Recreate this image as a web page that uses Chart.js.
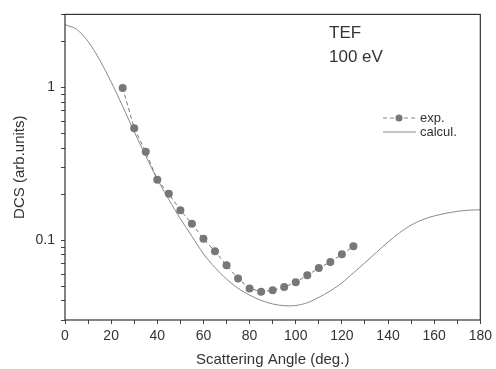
<!DOCTYPE html>
<html>
<head>
<meta charset="utf-8">
<script src="https://cdn.jsdelivr.net/npm/chart.js@4"></script>
<style>
  html, body { margin: 0; padding: 0; background: #fff; }
  #wrap { width: 496px; height: 369px; }
</style>
</head>
<body>
<div id="wrap"><canvas id="chart"></canvas></div>
<script>
// experimental points (deg, arb. units)
const expAngles = [25, 30, 35, 40, 45, 50, 55, 60, 65, 70, 75, 80, 85, 90, 95, 100, 105, 110, 115, 120, 125];
const expDCS = [0.99, 0.54, 0.378, 0.248, 0.201, 0.157, 0.128, 0.102, 0.0844, 0.0684, 0.056, 0.0483, 0.046, 0.0469, 0.0493, 0.053, 0.0588, 0.0656, 0.0718, 0.0807, 0.091];

// calculated curve
const calcAngles = [0, 5, 10, 15, 20, 25, 30, 35, 40, 45, 50, 55, 60, 65, 70, 75, 80, 85, 90, 95, 100, 105, 110, 115, 120, 125, 130, 135, 140, 145, 150, 155, 160, 165, 170, 175, 180];
const calcDCS = [2.57, 2.40, 1.995, 1.514, 1.084, 0.750, 0.513, 0.355, 0.251, 0.184, 0.138, 0.106, 0.0813, 0.0661, 0.0556, 0.0484, 0.0437, 0.0403, 0.0382, 0.0372, 0.0373, 0.0389, 0.0422, 0.0465, 0.0525, 0.0610, 0.0711, 0.0832, 0.0971, 0.1117, 0.1253, 0.1361, 0.1439, 0.1496, 0.1542, 0.1570, 0.1578];

const yTickValues = [0.03, 0.04, 0.05, 0.06, 0.07, 0.08, 0.09, 0.1, 0.2, 0.3, 0.4, 0.5, 0.6, 0.7, 0.8, 0.9, 1, 2, 3];
const yLabelled = [0.1, 1];
const xLabelStep = 20;

const textColor = '#333';
const fontFamily = '"Liberation Sans", Arial, sans-serif';

const framePlugin = {
  id: 'frame',
  afterDraw(chart) {
    const { ctx, chartArea: a } = chart;
    ctx.save();
    ctx.strokeStyle = '#333';
    ctx.lineWidth = 1.2;
    ctx.strokeRect(a.left, a.top, a.right - a.left, a.bottom - a.top);

    // annotation
    ctx.fillStyle = textColor;
    ctx.font = '17px ' + fontFamily;
    ctx.textBaseline = 'alphabetic';
    ctx.fillText('TEF', 329, 38);
    ctx.fillText('100 eV', 329, 62);

    // legend
    ctx.font = '13px ' + fontFamily;
    ctx.textBaseline = 'middle';
    ctx.strokeStyle = '#888';
    ctx.lineWidth = 1;
    ctx.setLineDash([4, 3]);
    ctx.beginPath(); ctx.moveTo(383, 118); ctx.lineTo(416, 118); ctx.stroke();
    ctx.setLineDash([]);
    ctx.fillStyle = '#777';
    ctx.beginPath(); ctx.arc(399, 118, 3.5, 0, Math.PI * 2); ctx.fill();
    ctx.beginPath(); ctx.moveTo(383, 132); ctx.lineTo(416, 132); ctx.stroke();
    ctx.fillStyle = textColor;
    ctx.fillText('exp.', 420, 118);
    ctx.fillText('calcul.', 420, 132);
    ctx.restore();
  }
};

new Chart(document.getElementById('chart'), {
  type: 'line',
  data: {
    datasets: [
      {
        label: 'exp.',
        data: expAngles.map((a, i) => ({ x: a, y: expDCS[i] })),
        borderColor: '#777',
        borderWidth: 1,
        borderDash: [4, 3],
        pointRadius: 4,
        pointBackgroundColor: '#777',
        pointBorderWidth: 0,
        fill: false
      },
      {
        label: 'calcul.',
        data: calcAngles.map((a, i) => ({ x: a, y: calcDCS[i] })),
        borderColor: '#888',
        borderWidth: 1,
        pointRadius: 0,
        tension: 0.3,
        fill: false
      }
    ]
  },
  options: {
    responsive: true,
    maintainAspectRatio: false,
    animation: false,
    layout: { padding: { top: 13, right: 13, left: 0, bottom: 0 } },
    plugins: { legend: { display: false }, tooltip: { enabled: false } },
    scales: {
      x: {
        type: 'linear',
        min: 0,
        max: 180,
        afterFit: (s) => { s.height = 49; },
        border: { display: false },
        grid: { drawOnChartArea: false, tickLength: 4, color: '#444' },
        ticks: {
          stepSize: 10,
          maxRotation: 0,
          autoSkip: false,
          padding: 4,
          color: textColor,
          font: { family: fontFamily, size: 14 },
          callback: (v) => (v % xLabelStep === 0 ? v : '')
        },
        title: {
          display: true,
          text: 'Scattering Angle (deg.)',
          color: textColor,
          font: { family: fontFamily, size: 15 },
          padding: { top: 0, bottom: 0 }
        }
      },
      y: {
        type: 'logarithmic',
        min: 0.03,
        max: 3,
        afterFit: (s) => { s.width = 65; },
        afterBuildTicks: (s) => { s.ticks = yTickValues.map(v => ({ value: v })); },
        border: { display: false },
        grid: { drawOnChartArea: false, tickLength: 4, color: '#444' },
        ticks: {
          autoSkip: false,
          padding: 6,
          color: textColor,
          font: { family: fontFamily, size: 14 },
          callback: (v) => (yLabelled.includes(v) ? String(v) : '')
        },
        title: {
          display: true,
          text: 'DCS (arb.units)',
          color: textColor,
          font: { family: fontFamily, size: 15 },
          padding: { top: 11, bottom: 0 }
        }
      }
    }
  },
  plugins: [framePlugin]
});
</script>
</body>
</html>
